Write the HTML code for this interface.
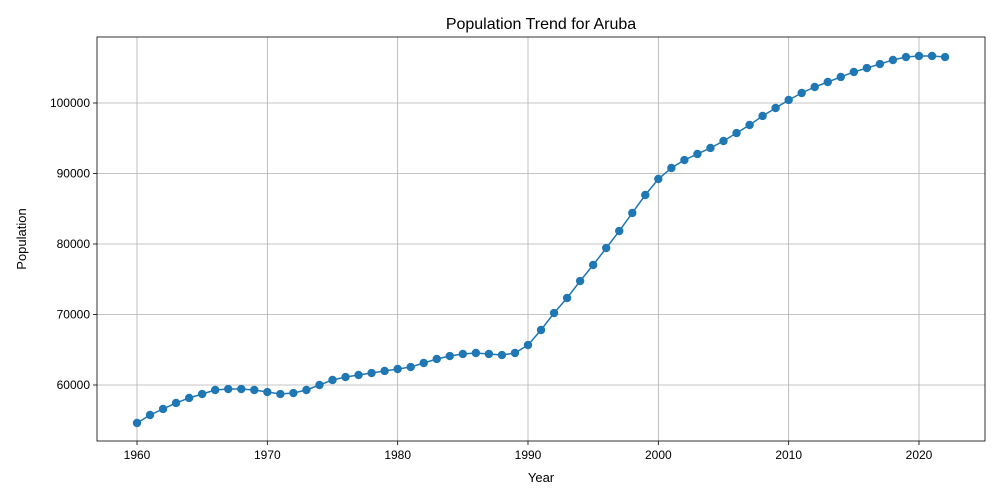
<!DOCTYPE html>
<html><head><meta charset="utf-8"><style>
body{margin:0;background:#fff;}
svg{display:block;font-family:"Liberation Sans","DejaVu Sans",sans-serif;}
</style></head><body>
<svg id="chart" width="1000" height="500"></svg>
<script>
const years=[];for(let y=1960;y<=2022;y++)years.push(y);
const population=[54610,55745,56600,57450,58160,58720,59290,59430,59430,59290,59000,58720,58860,59290,60000,60710,61130,61420,61700,61990,62270,62550,63120,63690,64110,64400,64540,64400,64250,64540,65670,67800,70210,72340,74750,77020,79430,81840,84400,86950,89220,90780,91910,92770,93620,94610,95740,96880,98160,99290,100430,101420,102270,102980,103690,104400,104960,105530,106100,106520,106670,106670,106520];
const xTicks=[1960,1970,1980,1990,2000,2010,2020];
const yTicks=[60000,70000,80000,90000,100000];
const L=97,R=985,T=37,B=441;
const xs=v=>137+(v-1960)*(919-137)/60;
const ys=v=>385-(v-60000)*70.5/10000;
const NS="http://www.w3.org/2000/svg";
const svg=document.getElementById('chart');
function mk(tag,attrs,parent){const e=document.createElementNS(NS,tag);for(const k in attrs)e.setAttribute(k,attrs[k]);(parent||svg).appendChild(e);return e;}
const grid=mk('g',{});


xTicks.forEach(t=>{const x=xs(t);
 mk('line',{x1:x,x2:x,y1:T,y2:B,stroke:'#b0b0b0','stroke-width':0.8},grid);
 mk('line',{x1:x,x2:x,y1:B,y2:B+4,stroke:'#000','stroke-width':0.8});
 const tx=mk('text',{x:x,y:B+18,'text-anchor':'middle','font-size':12});tx.textContent=t;
 
 
});
yTicks.forEach(t=>{const y=ys(t);
 mk('line',{x1:L,x2:R,y1:y,y2:y,stroke:'#b0b0b0','stroke-width':0.8},grid);
 mk('line',{x1:L-4,x2:L,y1:y,y2:y,stroke:'#000','stroke-width':0.8});
 const tx=mk('text',{x:L-7,y:y+4,'text-anchor':'end','font-size':12});tx.textContent=t;
 
 
});
const line=mk('polyline',{points:years.map((y,i)=>xs(y)+','+ys(population[i])).join(' '),fill:'none',stroke:'#1f77b4','stroke-width':1.5});


years.forEach((y,i)=>{const c=mk('circle',{cx:xs(y),cy:ys(population[i]),r:4.2,fill:'#1f77b4'});
 
 
});
const frame=mk('rect',{x:L,y:T,width:R-L,height:B-T,fill:'none',stroke:'#000','stroke-width':0.8});


const title=mk('text',{x:(L+R)/2,y:29,'text-anchor':'middle','font-size':16});title.textContent='Population Trend for Aruba';


const xt=mk('text',{x:(L+R)/2,y:482,'text-anchor':'middle','font-size':13});xt.textContent='Year';


const yt=mk('text',{x:26,y:(T+B)/2,'text-anchor':'middle','font-size':13,transform:'rotate(-90 26 '+((T+B)/2)+')'});yt.textContent='Population';


</script>
</body></html>
